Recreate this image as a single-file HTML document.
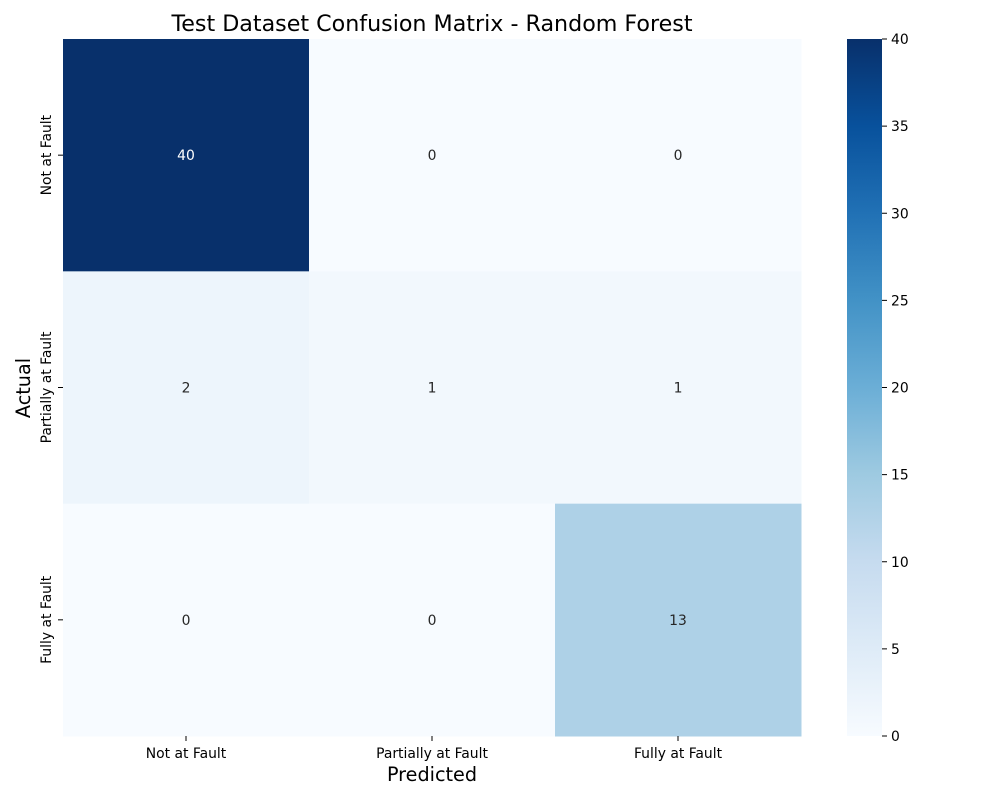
<!DOCTYPE html>
<html><head><meta charset="utf-8">
<style>
body{margin:0;background:#fff;}
svg{display:block;font-family:"DejaVu Sans","Liberation Sans",sans-serif;}
</style></head>
<body>
<svg id="chart" width="1000" height="800" viewBox="0 0 1000 800">
<defs>
<linearGradient id="cbgrad" x1="0" y1="1" x2="0" y2="0">
<stop offset="0" stop-color="#f7fbff"/><stop offset="0.125" stop-color="#deebf7"/>
<stop offset="0.25" stop-color="#c6dbef"/><stop offset="0.375" stop-color="#9ecae1"/>
<stop offset="0.5" stop-color="#6baed6"/><stop offset="0.625" stop-color="#4292c6"/>
<stop offset="0.75" stop-color="#2171b5"/><stop offset="0.875" stop-color="#08519c"/>
<stop offset="1" stop-color="#08306b"/>
</linearGradient>
</defs>
<text x="432" y="31" text-anchor="middle" font-size="22.2" fill="#000">Test Dataset Confusion Matrix - Random Forest</text>
<g id="cells"></g>
<g id="axes"></g>
<rect x="847" y="39" width="35" height="697" fill="url(#cbgrad)"/>
<g id="cbticks"></g>
<text x="432" y="781" text-anchor="middle" font-size="19.2">Predicted</text>
<text transform="translate(30,388) rotate(-90)" text-anchor="middle" font-size="19.2">Actual</text>
</svg>
<script>
const categories = ["Not at Fault","Partially at Fault","Fully at Fault"];
const row0 = [40,0,0];
const row1 = [2,1,1];
const row2 = [0,0,13];
const matrix = [row0,row1,row2];
const cbTicks = [0,5,10,15,20,25,30,35,40];
const vmin = 0, vmax = 40;

const NS="http://www.w3.org/2000/svg";
const L=63,R=801,T=39,B=736;
const cw=(R-L)/categories.length, ch=(B-T)/categories.length;
const xPos=i=>L+i*cw, yPos=i=>T+i*ch;
const cbY=v=>B-(v-vmin)/(vmax-vmin)*(B-T);
const stops=["#f7fbff","#deebf7","#c6dbef","#9ecae1","#6baed6","#4292c6","#2171b5","#08519c","#08306b"].map(h=>[1,3,5].map(k=>parseInt(h.substr(k,2),16)));
function blues(v){let t=Math.max(0,Math.min(1,(v-vmin)/(vmax-vmin)))*8;let i=Math.min(7,Math.floor(t)),f=t-i;
 const c=stops[i].map((a,k)=>Math.round(a+(stops[i+1][k]-a)*f));return {css:`rgb(${c})`,lum:(0.299*c[0]+0.587*c[1]+0.114*c[2])/255};}
function mk(tag,attrs,parent){const e=document.createElementNS(NS,tag);for(const k in attrs)e.setAttribute(k,attrs[k]);parent.appendChild(e);return e;}
const cells=document.getElementById('cells'),axes=document.getElementById('axes'),cbt=document.getElementById('cbticks');
matrix.forEach((row,r)=>row.forEach((v,c)=>{
 const col=blues(v);
 const rect=mk('rect',{x:xPos(c),y:yPos(r),width:cw+0.5,height:ch+0.5,fill:col.css},cells);
 
 
 const t=mk('text',{x:xPos(c)+cw/2,y:yPos(r)+ch/2+5,'text-anchor':'middle','font-size':13.9,fill:col.lum<0.5?'#fff':'#262626'},cells);
 t.textContent=v;
 
 
}));
categories.forEach((name,i)=>{
 const cx=xPos(i)+cw/2;
 mk('line',{x1:cx,x2:cx,y1:B,y2:B+5,stroke:'#000'},axes);
 const t=mk('text',{x:cx,y:B+22,'text-anchor':'middle','font-size':13.9},axes);
 t.textContent=name;
 
 
 const cy=yPos(i)+ch/2;
 mk('line',{x1:L-5,x2:L,y1:cy,y2:cy,stroke:'#000'},axes);
 const y=mk('text',{transform:`translate(51,${cy}) rotate(-90)`,'text-anchor':'middle','font-size':13.9},axes);
 y.textContent=name;
 
 
});
cbTicks.forEach(v=>{
 const y=cbY(v);
 mk('line',{x1:882,x2:887,y1:y,y2:y,stroke:'#000'},cbt);
 const t=mk('text',{x:891,y:y+5,'font-size':13.9},cbt);
 t.textContent=v;
 
 
});
</script>
</body></html>
